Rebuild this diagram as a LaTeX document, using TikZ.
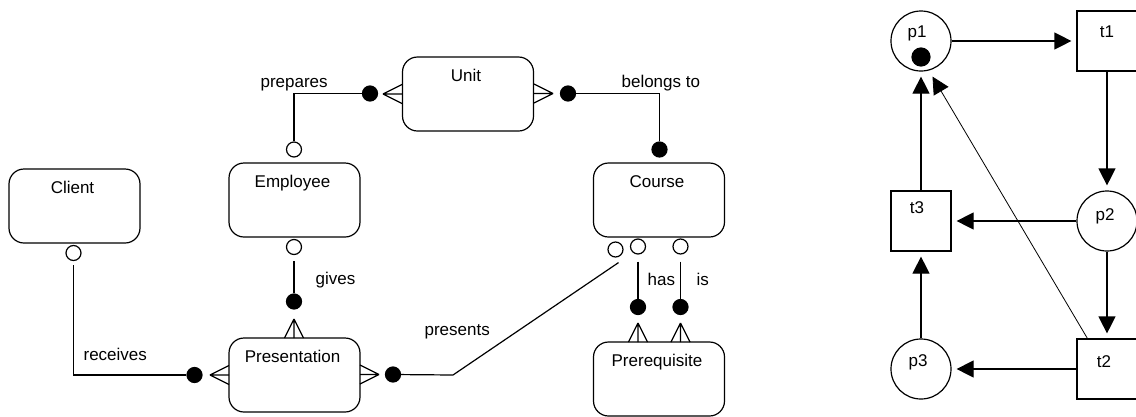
\documentclass[tikz,border=0pt]{standalone}
\usepackage{fontspec}
\setmainfont{Liberation Sans}
\usetikzlibrary{arrows.meta,calc}

\begin{document}
\begin{tikzpicture}[x=1pt,y=-1pt,line width=1.2pt,
  every node/.style={font=\fontsize{17}{20}\selectfont},
  ent/.style={draw,rounded corners=15pt,minimum width=131pt,minimum height=74pt,inner sep=0pt},
  ename/.style={label={[anchor=base,xshift=-2pt,yshift=-25pt]north:#1}},
  hollow/.style={draw,circle,fill=white,minimum size=15pt,inner sep=0pt},
  fulldot/.style={draw,circle,fill=black,minimum size=15pt,inner sep=0pt},
  word/.style={inner sep=0pt,anchor=base west},
  mark text/.style={inner sep=0pt,anchor=base},
  place/.style={draw,circle,minimum size=60pt,inner sep=0pt},
  trans/.style={draw,rectangle,minimum size=60pt,inner sep=0pt},
  arc/.style={-{Triangle[length=17pt,width=17pt]},shorten >=5pt},
  crow/.pic={\draw (0,0) -- (19,-9.5) (0,0) -- (19,0) (0,0) -- (19,9.5);}
]
\useasboundingbox (0,0) rectangle (1136,416);

% ---------- entity-relationship model ----------
\node[ent,ename=Client]       (client) at (74.5,206) {};
\node[ent,ename=Employee]     (employee) at (294.5,200) {};
\node[ent,ename=Presentation] (presentation) at (294.5,375) {};
\node[ent,ename=Unit]         (unit) at (468,94) {};
\node[ent,ename=Course]       (course) at (659,200) {};
\node[ent,ename=Prerequisite] (prereq) at (659,379) {};

% optional ends
\node[hollow] (clientO) at (73.5,253) {};
\node[hollow] (empTop) at (294,149.5) {};
\node[hollow] (empBot) at (294,247) {};
\node[hollow] (coursePres) at (615.5,249.5) {};
\node[hollow] (courseHas) at (638,246.5) {};
\node[hollow] (courseIs) at (680.5,246.5) {};

% mandatory ends
\node[fulldot] (recvDot) at (194.5,375) {};
\node[fulldot] (prepDot) at (370,93.5) {};
\node[fulldot] (unitDot) at (568,93.5) {};
\node[fulldot] (courseDot) at (659.5,149.5) {};
\node[fulldot] (givesDot) at (294,301.5) {};
\node[fulldot] (presDot) at (393,374.5) {};
\node[fulldot] (hasDot) at (638,307) {};
\node[fulldot] (isDot) at (680.5,307) {};

% crow's feet
\pic at (383,94) {crow};
\pic[rotate=180] at (553,93.5) {crow};
\pic at (210,375) {crow};
\pic[rotate=180] at (379,374.5) {crow};
\pic[rotate=-90] at (294,319) {crow};
\pic[rotate=-90] at (638,323) {crow};
\pic[rotate=-90] at (680.5,323) {crow};

% relationships
\draw[shorten <=4pt] (clientO) |- (recvDot);
\draw (empTop) |- (prepDot);
\draw (unitDot) -| (courseDot);
\draw[shorten <=6pt] (empBot) -- (givesDot);
\coordinate (presBend) at (453,375);
\draw ($(coursePres.south)+(3,5)$) -- (presBend) -- (presDot);
\draw[shorten <=7pt] (courseHas) -- (hasDot);
\draw[shorten <=7pt] (courseIs) -- (isDot);

% relationship names
\node[word] (lPrep) at (260,87) {prepares};
\node[word] (lBelong) at (621,87) {belongs to};
\node[word] (lGives) at (315,284) {gives};
\node[word] (lRecv) at (83,360) {receives};
\node[word] (lPres) at (424,335) {presents};
\node[word] (lHas) at (647,285) {has};
\node[word] (lIs) at (696,285) {is};

% ---------- Petri net ----------
\node[place] (p1) at (921,41) {};
\node[fulldot,minimum size=18pt] (token) at (921,57) {};
\node[trans] (t1) at (1107,41) {};
\node[place] (p2) at (1107,221) {};
\node[trans] (t3) at (921,221) {};
\node[trans] (t2) at (1107,369) {};
\node[place] (p3) at (921,369) {};

\node[mark text] (p1l) at (917,37) {p1};
\node[mark text] (t1l) at (1107,37) {t1};
\node[mark text] (p2l) at (1105,220) {p2};
\node[mark text] (t3l) at (917,213) {t3};
\node[mark text] (t2l) at (1104,367) {t2};
\node[mark text] (p3l) at (918,366) {p3};

\draw[arc] (p1) -- (t1);
\draw[arc] (t1) -- (p2);
\draw[arc] (p2) -- (t3);
\draw[arc] (p2) -- (t2);
\draw[arc] (t2) -- (p3);
\draw[arc] (p3) -- (t3);
\draw[arc] (t3) -- (p1);
\draw[arc,line width=0.8pt,shorten >=7pt] ([xshift=11pt]t2.north west) -- (p1.-75);
\end{tikzpicture}
\end{document}
